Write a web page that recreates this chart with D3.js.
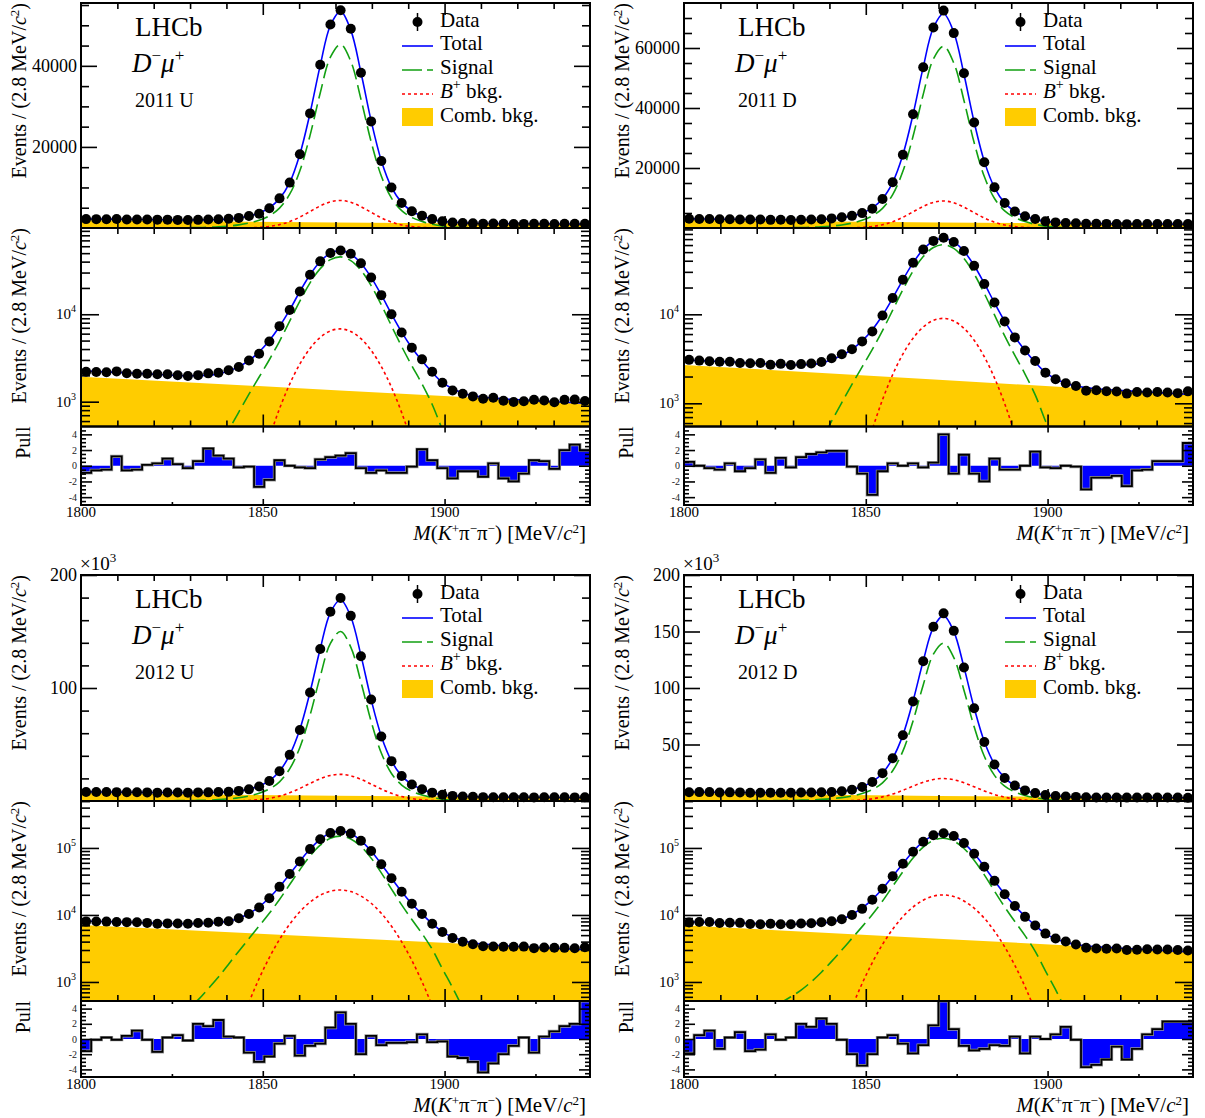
<!DOCTYPE html>
<html><head><meta charset="utf-8">
<script src="https://cdn.jsdelivr.net/npm/d3@7"></script>
<style>body{margin:0;background:#fff}</style>
</head><body>
<svg id="c" width="1205" height="1118" xmlns="http://www.w3.org/2000/svg"></svg>
<script>
// ---------------- data ----------------
const binCenters = [1801.4,1804.2,1807.0,1809.8,1812.6,1815.4,1818.2,1821.0,1823.8,1826.6,
 1829.4,1832.2,1835.0,1837.8,1840.6,1843.4,1846.2,1849.0,1851.8,1854.6,
 1857.4,1860.2,1863.0,1865.8,1868.6,1871.4,1874.2,1877.0,1879.8,1882.6,
 1885.4,1888.2,1891.0,1893.8,1896.6,1899.4,1902.2,1905.0,1907.8,1910.6,
 1913.4,1916.2,1919.0,1921.8,1924.6,1927.4,1930.2,1933.0,1935.8,1938.6];
const combMass = [1800, 1870, 1940];
const xTickLabels = [1800, 1850, 1900];
const sampleLabels = ["2011 U", "2011 D", "2012 U", "2012 D"];

// 2011 U
const dataU11 = [2197,2187,2167,2221,2112,2087,2085,2064,2060,2004,1967,2012,2109,2139,2293,2490,2955,3536,4873,7310,11200,18173,28272,40272,50197,53727,49159,38295,26295,16539,9979,6185,4135,3048,2196,1647,1345,1233,1149,1079,1107,1027,993,1011,1050,1033,987,1049,1056,1020];
const totalU11 = [2240,2215,2190,2165,2140,2110,2080,2050,2020,1995,1980,1985,2010,2080,2250,2500,2960,3700,5000,7250,11200,18200,28322,40112,49951,53427,48806,38354,26441,16616,10069,6256,4141,2934,2163,1659,1405,1258,1173,1126,1097,1073,1058,1043,1028,1014,1000,986,972,958];
const sigU11 = [0,0,0,0,0,0,0,0,0,54,77,113,177,285,471,761,1219,1916,3017,4906,8331,14120,22849,33286,42129,45282,41132,31787,21286,12824,7357,4272,2582,1595,929,476,249,122,54,23,9,0,0,0,0,0,0,0,0,0];
const bkgBU11 = [0,0,0,0,0,0,0,0,0,0,0,0,0,1,5,18,58,158,384,830,1589,2700,4070,5443,6458,6800,6348,5260,3866,2521,1459,749,341,138,50,16,5,1,0,0,0,0,0,0,0,0,0,0,0,0];
const combU11 = [1930, 1355, 950];
const pullU11 = [-0.9,-0.6,-0.5,1.2,-0.6,-0.5,0.1,0.3,0.9,0.2,-0.3,0.6,2.2,1.3,0.9,-0.2,-0.1,-2.7,-1.8,0.7,0.0,-0.2,-0.3,0.8,1.1,1.3,1.6,-0.3,-0.9,-0.6,-0.9,-0.9,-0.1,2.1,0.7,-0.3,-1.6,-0.7,-0.7,-1.4,0.3,-1.6,-2.0,-1.0,0.7,0.6,-0.4,2.0,2.7,2.0];

// 2011 D
const dataD11 = [3078,3020,2974,2928,2936,2842,2824,2842,2713,2777,2690,2757,2808,2910,3203,3562,4046,4964,6424,9693,15254,24403,37922,53568,66860,72469,64968,51571,35147,21910,13565,8323,5506,3929,2993,2212,1866,1683,1563,1385,1403,1369,1355,1286,1340,1323,1342,1322,1301,1363];
const totalD11 = [3050,3020,2990,2955,2920,2880,2840,2800,2760,2725,2700,2700,2730,2820,3097,3450,4052,5035,6727,9762,15217,24403,37864,53614,66757,71400,65223,51254,35335,22208,13461,8369,5543,3929,2896,2221,1879,1683,1567,1501,1460,1426,1404,1383,1362,1341,1320,1300,1280,1260];
const sigD11 = [0,0,0,0,0,0,0,0,0,73,103,152,236,382,630,1018,1630,2563,4036,6563,11144,18889,30567,44529,56358,60576,55025,42523,28476,17156,9841,5715,3454,2133,1242,636,333,164,73,30,12,0,0,0,0,0,0,0,0,0];
const bkgBD11 = [0,0,0,0,0,0,0,0,0,0,0,0,0,2,7,24,77,209,509,1098,2103,3574,5387,7204,8547,9000,8402,6962,5117,3337,1931,991,451,183,66,21,6,2,0,0,0,0,0,0,0,0,0,0,0,0];
const combD11 = [2700, 1837, 1250];
const pullD11 = [0.5,0.0,-0.3,-0.5,0.3,-0.7,-0.3,0.8,-0.9,1.0,-0.2,1.1,1.5,1.7,1.9,1.9,-0.1,-1.0,-3.7,-0.7,0.3,0.0,0.3,-0.2,0.4,4.0,-1.0,1.4,-1.0,-2.0,0.9,-0.5,-0.5,0.0,1.8,-0.2,-0.3,0.0,-0.1,-3.0,-1.5,-1.5,-1.3,-2.6,-0.6,-0.5,0.6,0.6,0.6,2.9];

// 2012 U
const dataU12 = [7956,8011,7958,7851,7815,7796,7611,7392,7487,7463,7383,7602,7647,7919,8077,8936,10312,12888,17771,26279,40822,62886,96083,134450,167404,179594,163833,128134,89902,57124,35262,22162,14656,10336,7399,5580,4519,3987,3659,3405,3374,3357,3363,3370,3197,3260,3244,3229,3191,3301];
const totalU12 = [8100,8020,7940,7860,7780,7700,7620,7540,7470,7420,7400,7430,7500,7700,8050,8917,10496,13233,18080,26376,40741,63440,96362,134670,166791,178117,163025,128852,89782,57316,35356,22237,14705,10275,7433,5602,4676,4148,3845,3672,3565,3475,3416,3358,3300,3243,3188,3134,3080,3026];
const sigU12 = [0,0,0,0,0,0,120,180,225,300,390,540,795,1185,1845,2880,4455,6855,10605,16995,28470,47355,75960,110220,139500,149940,136200,105255,70485,42465,24360,14145,8550,5280,3075,1575,825,405,180,75,30,0,0,0,0,0,0,0,0,0];
const bkgBU12 = [0,0,0,0,0,0,0,0,0,0,0,2,7,24,73,201,498,1126,2313,4307,7283,11182,15583,19713,22635,23600,22326,19175,14951,10580,6797,3965,2098,1008,439,175,64,21,6,0,0,0,0,0,0,0,0,0,0,0];
const combU12 = [7100, 4616, 3000];
const pullU12 = [-1.6,-0.1,0.2,-0.1,0.4,1.1,-0.1,-1.7,0.2,0.5,-0.2,2.0,1.7,2.5,0.3,0.2,-1.8,-3.0,-2.3,-0.6,0.4,-2.2,-0.9,-0.6,1.5,3.5,2.0,-2.0,0.4,-0.8,-0.5,-0.5,-0.4,0.6,-0.4,-0.3,-2.3,-2.5,-3.0,-4.4,-3.2,-2.0,-0.9,0.2,-1.8,0.3,1.0,1.7,2.0,5.0];

// 2012 D
const dataD12 = [7731,7874,7857,7576,7637,7628,7342,7289,7391,7281,7277,7451,7517,7788,8032,8620,9965,12329,16866,24664,37803,58139,88005,123615,154273,166056,150574,118186,82019,52276,32293,20327,13631,9373,6980,5266,4449,4014,3623,3246,3163,3130,3155,3001,3023,3072,3055,3053,2999,2945];
const totalD12 = [7900,7830,7760,7690,7620,7550,7480,7410,7340,7290,7260,7280,7380,7553,7855,8629,10167,12724,17128,24633,37706,58284,88570,123897,153568,164031,150070,118496,82450,52574,32437,20456,13596,9559,6955,5266,4409,3914,3629,3464,3360,3285,3212,3153,3095,3039,2984,2929,2876,2823];
const sigD12 = [0,0,0,210,238,266,308,350,405,489,601,755,1007,1398,2027,2992,4474,6696,10191,16105,26758,44135,70795,102725,130014,139744,126938,98098,65692,39577,22704,13183,7969,4921,2866,1468,769,377,168,70,28,0,0,0,0,0,0,0,0,0];
const bkgBD12 = [0,0,0,0,0,0,0,0,0,0,0,2,6,20,62,169,420,949,1950,3632,6141,9429,13140,16622,19086,19900,18825,16169,12607,8921,5731,3343,1769,850,370,147,54,17,5,0,0,0,0,0,0,0,0,0,0,0];
const combD12 = [7000, 4427, 2800];
const pullD12 = [-1.9,0.5,1.1,-1.3,0.2,0.9,-1.6,-1.4,0.6,-0.1,0.2,2.0,1.6,2.7,2.0,-0.1,-2.0,-3.5,-2.0,0.2,0.5,-0.6,-1.9,-0.8,1.8,5.0,1.3,-0.9,-1.5,-1.3,-0.8,-0.9,0.3,-1.9,0.3,0.0,0.6,1.6,-0.1,-3.7,-3.4,-2.7,-1.0,-2.7,-1.3,0.6,1.3,2.3,2.3,2.3];

// tick labels of the linear y axes
const linMajorU11 = [20000, 40000], linMajorD11 = [20000, 40000, 60000];
const linMajorU12 = [100000, 200000], linMajorD12 = [50000, 100000, 150000, 200000];
const pullTickLabels = [4, 2, 0, -2, -4];

// ---------------- layout / style ----------------
const FONT = "'Liberation Serif','Times New Roman',Times,serif";
const BLUE = "#0000ff", GREEN = "#12a012", RED = "#ff0000", YEL = "#ffcc00";
const colX = [81, 684], W = 509;
const rows = [
  {lin:[3,228], log:[228,426.5], pull:[426.5,505], top:3, xlab:517, xtitle:540},
  {lin:[575,801], log:[801,1001], pull:[1001,1077], top:575, xlab:1089, xtitle:1112}
];
const panels = [
  {label:sampleLabels[0], col:0, row:0, data:dataU11, total:totalU11, sig:sigU11, bkgB:bkgBU11, comb:combU11, pull:pullU11,
   linMax:55500, linMajor:linMajorU11, linMinorStep:5000, linFmt:d=>String(d), x1e3:false, logDom:[520,97000], decades:[3,4]},
  {label:sampleLabels[1], col:1, row:0, data:dataD11, total:totalD11, sig:sigD11, bkgB:bkgBD11, comb:combD11, pull:pullD11,
   linMax:75000, linMajor:linMajorD11, linMinorStep:5000, linFmt:d=>String(d), x1e3:false, logDom:[549,93300], decades:[3,4]},
  {label:sampleLabels[2], col:0, row:1, data:dataU12, total:totalU12, sig:sigU12, bkgB:bkgBU12, comb:combU12, pull:pullU12,
   linMax:200000, linMajor:linMajorU12, linMinorStep:20000, linFmt:d=>String(d/1000), x1e3:true, logDom:[520,502000], decades:[3,4,5]},
  {label:sampleLabels[3], col:1, row:1, data:dataD12, total:totalD12, sig:sigD12, bkgB:bkgBD12, comb:combD12, pull:pullD12,
   linMax:200000, linMajor:linMajorD12, linMinorStep:10000, linFmt:d=>String(d/1000), x1e3:true, logDom:[520,502000], decades:[3,4,5]}
];

const svg = d3.select("#c");
svg.append("rect").attr("width",1205).attr("height",1118).attr("fill","#fff");

function styleTicks(sel, sw){ sel.select(".domain").remove(); sel.selectAll("line").attr("stroke","#000").attr("stroke-width",sw); }
function yTicks(g, y, x0, x1, vals, len){
  g.append("g").attr("transform",`translate(${x0},0)`).call(d3.axisRight(y).tickValues(vals).tickSize(len).tickFormat("")).call(s=>styleTicks(s,1.6));
  g.append("g").attr("transform",`translate(${x1},0)`).call(d3.axisLeft(y).tickValues(vals).tickSize(len).tickFormat("")).call(s=>styleTicks(s,1.6));
}
function xTicks(g, x, yTop, yBot, vals, len){
  g.append("g").attr("transform",`translate(0,${yTop})`).call(d3.axisBottom(x).tickValues(vals).tickSize(len).tickFormat("")).call(s=>styleTicks(s,1.6));
  g.append("g").attr("transform",`translate(0,${yBot})`).call(d3.axisTop(x).tickValues(vals).tickSize(len).tickFormat("")).call(s=>styleTicks(s,1.6));
}
function yTitle(g, xb, yEnd, txt){
  const t = g.append("text").attr("transform",`translate(${xb},${yEnd}) rotate(-90)`)
    .attr("text-anchor","end").attr("font-family",FONT).attr("font-size",20).attr("fill","#000");
  if (txt) { t.text(txt); return; }
  t.append("tspan").text("Events / (2.8 MeV/");
  t.append("tspan").attr("font-style","italic").text("c");
  t.append("tspan").attr("font-size",13).attr("dy",-7).text("2");
  t.append("tspan").attr("dy",7).text(")");
}

let clipN = 0;
function fitPanel(g, x, y, yr, p, isLog){
  const id = "clip" + (clipN++);
  const x0 = x.range()[0], x1 = x.range()[1];
  g.append("clipPath").attr("id",id).append("rect").attr("x",x0).attr("y",yr[0]).attr("width",x1-x0).attr("height",yr[1]-yr[0]);
  const c = g.append("g").attr("clip-path",`url(#${id})`);
  c.append("path").datum(combMass.map((m,i)=>[m,p.comb[i]]))
    .attr("d", d3.area().x(d=>x(d[0])).y0(yr[1]).y1(d=>y(d[1])))
    .attr("fill", YEL);
  const mk = arr => binCenters.map((m,i)=>[m,arr[i]]);
  const ln = d3.line().x(d=>x(d[0])).y(d=>y(d[1])).curve(d3.curveCatmullRom.alpha(0.5));
  if (isLog) ln.defined(d=>d[1]>0);
  c.append("path").datum(mk(p.bkgB)).attr("d",ln).attr("fill","none").attr("stroke",RED).attr("stroke-width",1.6).attr("stroke-dasharray","3,3");
  c.append("path").datum(mk(p.sig)).attr("d",ln).attr("fill","none").attr("stroke",GREEN).attr("stroke-width",1.6).attr("stroke-dasharray","15,6");
  c.append("path").datum(mk(p.total)).attr("d",ln).attr("fill","none").attr("stroke",BLUE).attr("stroke-width",1.6);
  const pts = g.append("g");
  pts.selectAll("line").data(mk(p.data)).join("line")
    .attr("x1",d=>x(d[0])).attr("x2",d=>x(d[0]))
    .attr("y1",d=>y(d[1]+Math.sqrt(d[1]))).attr("y2",d=>y(d[1]-Math.sqrt(d[1])))
    .attr("stroke","#000").attr("stroke-width",1.5);
  pts.selectAll("circle").data(mk(p.data)).join("circle")
    .attr("cx",d=>x(d[0])).attr("cy",d=>y(d[1])).attr("r",5).attr("fill","#000");
  xTicks(g, x, yr[0], yr[1], d3.range(1810,1940,10).filter(v=>v%50!==0), 6);
  xTicks(g, x, yr[0], yr[1], [1850,1900], 12);
}

panels.forEach((p) => {
  const R = rows[p.row], x0 = colX[p.col], x1 = x0 + W;
  const g = svg.append("g");
  const x = d3.scaleLinear().domain([1800,1940]).range([x0,x1]);

  // ---- linear panel ----
  const yL = d3.scaleLinear().domain([0,p.linMax]).range([R.lin[1],R.lin[0]]);
  fitPanel(g, x, yL, R.lin, p, false);
  const linMinor = d3.range(p.linMinorStep, p.linMax, p.linMinorStep).filter(v=>!p.linMajor.includes(v));
  yTicks(g, yL, x0, x1, p.linMajor, 16);
  yTicks(g, yL, x0, x1, linMinor, 8);
  p.linMajor.forEach(v=>{
    g.append("text").attr("x",x0-4).attr("y",yL(v)+6).attr("text-anchor","end")
      .attr("font-family",FONT).attr("font-size",18).text(p.linFmt(v));
  });
  if (p.x1e3){
    const t = g.append("text").attr("x",x0-1).attr("y",R.lin[0]-5).attr("font-family",FONT).attr("font-size",19);
    t.append("tspan").text("×10");
    t.append("tspan").attr("font-size",13).attr("dy",-8).text("3");
  }
  yTitle(g, x0-55, R.lin[0]);

  // ---- log panel ----
  const yG = d3.scaleLog().domain(p.logDom).range([R.log[1],R.log[0]]);
  fitPanel(g, x, yG, R.log, p, true);
  const logMajor = p.decades.map(e=>Math.pow(10,e));
  const logMinor = [];
  [2,3,4,5].forEach(e=>d3.range(2,10).forEach(j=>{const v=j*Math.pow(10,e); if(v>p.logDom[0]&&v<p.logDom[1]) logMinor.push(v);}));
  yTicks(g, yG, x0, x1, logMajor, 18);
  yTicks(g, yG, x0, x1, logMinor, 9);
  p.decades.forEach(e=>{
    const t = g.append("text").attr("x",x0-5).attr("y",yG(Math.pow(10,e))+5).attr("text-anchor","end")
      .attr("font-family",FONT).attr("font-size",15);
    t.append("tspan").text("10");
    t.append("tspan").attr("font-size",10).attr("dy",-7).text(String(e));
  });
  yTitle(g, x0-55, R.log[0]);

  // ---- pull panel ----
  const yP = d3.scaleLinear().domain([-5,5]).range([R.pull[1],R.pull[0]]);
  const pid = "clip" + (clipN++);
  g.append("clipPath").attr("id",pid).append("rect").attr("x",x0).attr("y",R.pull[0]).attr("width",W).attr("height",R.pull[1]-R.pull[0]);
  const pc = g.append("g").attr("clip-path",`url(#${pid})`);
  const half = 1.4;
  const steps = binCenters.map((m,i)=>[m-half,p.pull[i]]).concat([[binCenters[binCenters.length-1]+half,p.pull[p.pull.length-1]]]);
  pc.append("path").datum(steps).attr("d",d3.area().curve(d3.curveStepAfter).x(d=>x(d[0])).y0(yP(0)).y1(d=>yP(d[1]))).attr("fill",BLUE);
  const stepLine = d3.line().curve(d3.curveStepAfter).x(d=>x(d[0])).y(d=>yP(d[1]));
  pc.append("path").datum(steps).attr("d",stepLine).attr("fill","none").attr("stroke","#999").attr("stroke-width",3.2);
  pc.append("path").datum(steps).attr("d",stepLine).attr("fill","none").attr("stroke","#000").attr("stroke-width",1.8);
  yTicks(g, yP, x0, x1, [-4,-2,0,2,4], 11);
  yTicks(g, yP, x0, x1, d3.range(-4.5,5,0.5).filter(v=>v%2!==0), 5);
  xTicks(g, x, R.pull[0], R.pull[1], [1825,1875,1925], 3);
  xTicks(g, x, R.pull[0], R.pull[1], [1850,1900], 6);
  pullTickLabels.forEach(v=>{
    g.append("text").attr("x",x0-4).attr("y",yP(v)+3.5).attr("text-anchor","end")
      .attr("font-family",FONT).attr("font-size",10).attr("fill","#222").text(String(v));
  });
  yTitle(g, x0-51, R.pull[0], "Pull");

  // frames
  [R.lin, R.log, R.pull].forEach(r=>{
    g.append("rect").attr("x",x0).attr("y",r[0]).attr("width",W).attr("height",r[1]-r[0])
      .attr("fill","none").attr("stroke","#000").attr("stroke-width",2);
  });

  // x labels and title
  xTickLabels.forEach(v=>{
    g.append("text").attr("x",x(v)).attr("y",R.xlab).attr("text-anchor","middle")
      .attr("font-family",FONT).attr("font-size",15).text(String(v));
  });
  const xt = g.append("text").attr("x",x1-4).attr("y",R.xtitle).attr("text-anchor","end")
    .attr("font-family",FONT).attr("font-size",21);
  xt.append("tspan").attr("font-style","italic").text("M");
  xt.append("tspan").text("(");
  xt.append("tspan").attr("font-style","italic").text("K");
  xt.append("tspan").attr("font-size",13).attr("dy",-7).text("+");
  xt.append("tspan").attr("dy",7).text("π");
  xt.append("tspan").attr("font-size",13).attr("dy",-7).text("−");
  xt.append("tspan").attr("dy",7).text("π");
  xt.append("tspan").attr("font-size",13).attr("dy",-7).text("−");
  xt.append("tspan").attr("dy",7).text(") [MeV/");
  xt.append("tspan").attr("font-style","italic").text("c");
  xt.append("tspan").attr("font-size",13).attr("dy",-7).text("2");
  xt.append("tspan").attr("dy",7).text("]");

  // labels
  const top = R.top;
  g.append("text").attr("x",x0+54).attr("y",top+33).attr("font-family",FONT).attr("font-size",27).text("LHCb");
  const dm = g.append("text").attr("x",x0+51).attr("y",top+69).attr("font-family",FONT).attr("font-size",27);
  dm.append("tspan").attr("font-style","italic").text("D");
  dm.append("tspan").attr("font-size",17).attr("dy",-11).text("−");
  dm.append("tspan").attr("dy",11).attr("font-style","italic").text("μ");
  dm.append("tspan").attr("font-size",17).attr("dy",-11).text("+");
  g.append("text").attr("x",x0+54).attr("y",top+104).attr("font-family",FONT).attr("font-size",20).text(p.label);

  // legend
  const lx0 = x0+321, lx1 = x0+352, tx = x0+359;
  const rowsY = [24,47,71,95,119].map(v=>top+v);
  const lg = g.append("g").attr("font-family",FONT).attr("font-size",21);
  const cx = (lx0+lx1)/2;
  lg.append("line").attr("x1",cx).attr("x2",cx).attr("y1",rowsY[0]-14).attr("y2",rowsY[0]+4).attr("stroke","#000").attr("stroke-width",1.5);
  lg.append("circle").attr("cx",cx).attr("cy",rowsY[0]-5).attr("r",5).attr("fill","#000");
  lg.append("text").attr("x",tx).attr("y",rowsY[0]).text("Data");
  lg.append("line").attr("x1",lx0).attr("x2",lx1).attr("y1",rowsY[1]-4).attr("y2",rowsY[1]-4).attr("stroke",BLUE).attr("stroke-width",1.6);
  lg.append("text").attr("x",tx).attr("y",rowsY[1]).text("Total");
  lg.append("line").attr("x1",lx0).attr("x2",lx1).attr("y1",rowsY[2]-4).attr("y2",rowsY[2]-4).attr("stroke",GREEN).attr("stroke-width",1.6).attr("stroke-dasharray","20,5");
  lg.append("text").attr("x",tx).attr("y",rowsY[2]).text("Signal");
  lg.append("line").attr("x1",lx0).attr("x2",lx1).attr("y1",rowsY[3]-4).attr("y2",rowsY[3]-4).attr("stroke",RED).attr("stroke-width",1.6).attr("stroke-dasharray","3,3");
  const bt = lg.append("text").attr("x",tx).attr("y",rowsY[3]);
  bt.append("tspan").attr("font-style","italic").text("B");
  bt.append("tspan").attr("font-size",14).attr("dy",-9).text("+");
  bt.append("tspan").attr("dy",9).text(" bkg.");
  lg.append("rect").attr("x",lx0).attr("y",rowsY[4]-14).attr("width",lx1-lx0).attr("height",18).attr("fill",YEL);
  lg.append("text").attr("x",tx).attr("y",rowsY[4]).text("Comb. bkg.");
});
</script>
</body></html>
